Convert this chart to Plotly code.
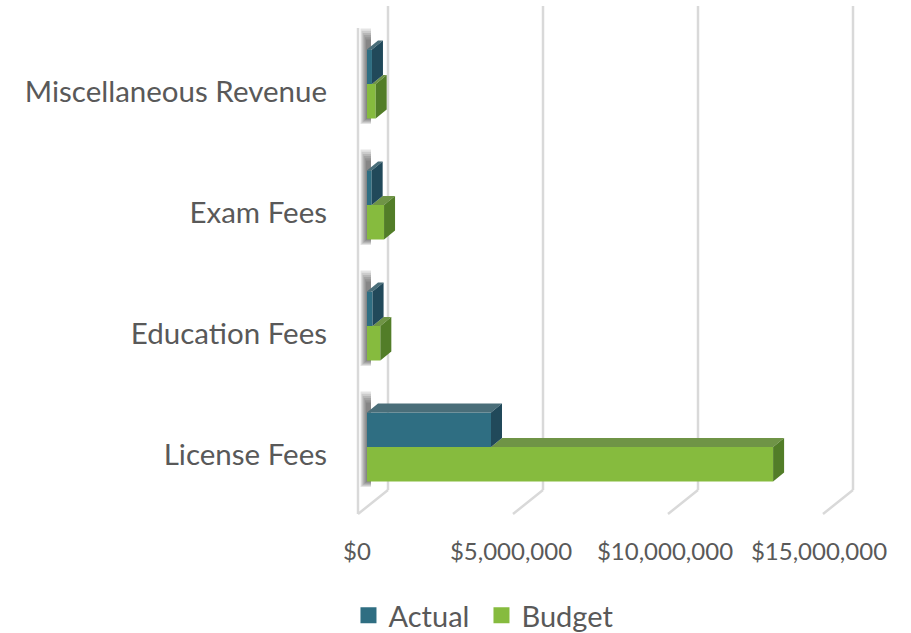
import plotly.graph_objects as go

# ---------------- data ----------------
categories = ["License Fees", "Education Fees", "Exam Fees", "Miscellaneous Revenue"]
actual = [4_000_000, 180_000, 150_000, 160_000]
budget = [13_100_000, 430_000, 550_000, 280_000]
tick_values = [0, 5_000_000, 10_000_000, 15_000_000]
series_names = ["Actual", "Budget"]

# ---------------- geometry (pixels -> data units) ----------------
W, H = 911, 633
L, R, T, B = 340, 880, 2, 525          # plot area in page pixels
PX_PER_USD = 31 / 1e6                   # horizontal scale
PX_PER_CAT = 121                        # category spacing
ZERO_PX = 367                           # bar base pixel
LABEL0_PX = 455                         # first category pixel

x_range = [(L - ZERO_PX) / PX_PER_USD, (R - ZERO_PX) / PX_PER_USD]
y_range = [(LABEL0_PX - B) / PX_PER_CAT, (LABEL0_PX - T) / PX_PER_CAT]


def dx(px):
    return px / PX_PER_USD


def dy(px):
    return px / PX_PER_CAT


pos = list(range(len(categories)))
BAR_H = dy(34.5)
BAR_SHIFT = dy(8)
DEPTH_X, DEPTH_Y = dx(11), dy(9)

FONT = "Lato, Carlito, Calibri, sans-serif"
TXT = "#595959"
GRID = "#d9d9d9"

COL = {
    "Actual": dict(front="#2f6e82", top="#4a6e79", side="#21495a"),
    "Budget": dict(front="#86bb3e", top="#6f9446", side="#527d28"),
}

fig = go.Figure()

# ---------------- walls / gridlines (oblique projection) on base subplot ----------------
gx, gy = [], []
back_dx, front_dx = dx(21), dx(-9)
floor_back, floor_front = dy(455 - 490), dy(455 - 514)
wall_top = dy(455 - 6)
for v in tick_values:
    gx += [v + back_dx, v + back_dx, None]
    gy += [floor_back, wall_top, None]
    gx += [v + front_dx, v + back_dx, None]
    gy += [floor_front, floor_back, None]
gx += [front_dx, front_dx, None]
gy += [floor_front, dy(455 - 28), None]
fig.add_trace(go.Scatter(x=gx, y=gy, mode="lines", line=dict(color=GRID, width=2.5),
                         hoverinfo="skip", showlegend=False))

# ---------------- soft shadows cast on the side wall ----------------
for k in range(6):
    sx, sy = [], []
    for p in pos:
        top = p + BAR_SHIFT + BAR_H + DEPTH_Y + dy(1 + 2.2 * k)
        bot = p + BAR_SHIFT - BAR_H - dy(0.5 + 1.0 * k)
        x0 = dx(-1 - 1.1 * k)
        x1 = dx(4)
        sx += [x0, x1, x1, x0, x0, None]
        sy += [bot, bot, top, top, bot, None]
    fig.add_trace(go.Scatter(x=sx, y=sy, mode="lines", fill="toself", line=dict(width=0),
                             fillcolor="rgba(30,30,30,0.12)", hoverinfo="skip",
                             showlegend=False))


def poly_trace(xs, ys, color):
    return go.Scatter(x=xs, y=ys, mode="lines", fill="toself", line=dict(width=0, color=color),
                      fillcolor=color, hoverinfo="skip", showlegend=False,
                      xaxis="x3", yaxis="y3")


# ---------------- bars (overlay subplot, drawn above walls) ----------------
fig.add_trace(go.Bar(y=pos, x=actual, orientation="h", width=BAR_H, offset=BAR_SHIFT,
                     marker=dict(color=COL["Actual"]["front"], line=dict(width=0)),
                     name="Actual", showlegend=False, xaxis="x3", yaxis="y3"))
fig.add_trace(go.Bar(y=pos, x=budget, orientation="h", width=BAR_H, offset=BAR_SHIFT - BAR_H,
                     marker=dict(color=COL["Budget"]["front"], line=dict(width=0)),
                     name="Budget", showlegend=False, xaxis="x3", yaxis="y3"))

# budget faces (visible part of top, side)
tx, ty, sx, sy = [], [], [], []
for p, va, vb in zip(pos, actual, budget):
    b = p + BAR_SHIFT
    y0 = b - BAR_H
    if vb > va:
        tx += [va, vb, vb + DEPTH_X, va + DEPTH_X, va, None]
        ty += [b, b, b + DEPTH_Y, b + DEPTH_Y, b, None]
    sx += [vb, vb, vb + DEPTH_X, vb + DEPTH_X, vb, None]
    sy += [y0, b, b + DEPTH_Y, y0 + DEPTH_Y, y0, None]
fig.add_trace(poly_trace(tx, ty, COL["Budget"]["top"]))
fig.add_trace(poly_trace(sx, sy, COL["Budget"]["side"]))

# actual faces (top, side)
tx, ty, sx, sy = [], [], [], []
for p, va in zip(pos, actual):
    y0 = p + BAR_SHIFT
    y1 = y0 + BAR_H
    tx += [0, va, va + DEPTH_X, DEPTH_X, 0, None]
    ty += [y1, y1, y1 + DEPTH_Y, y1 + DEPTH_Y, y1, None]
    sx += [va, va, va + DEPTH_X, va + DEPTH_X, va, None]
    sy += [y0, y1, y1 + DEPTH_Y, y0 + DEPTH_Y, y0, None]
fig.add_trace(poly_trace(tx, ty, COL["Actual"]["top"]))
fig.add_trace(poly_trace(sx, sy, COL["Actual"]["side"]))

# ---------------- legend entries ----------------
for name in series_names:
    fig.add_trace(go.Scatter(x=[None], y=[None], mode="markers", name=name,
                             marker=dict(symbol="square", size=16, color=COL[name]["front"])))

# ---------------- tick label axis (front floor edge) ----------------
fig.add_trace(go.Scatter(x=[None], y=[None], xaxis="x2", showlegend=False, hoverinfo="skip"))

LBL0_PX, LBL_SCALE = 357, 30.8 / 1e6
hidden = dict(showgrid=False, zeroline=False, showticklabels=False, showline=False,
              ticks="", fixedrange=True)
fig.update_layout(
    width=W, height=H,
    margin=dict(l=L, r=W - R, t=T, b=H - B, autoexpand=False),
    paper_bgcolor="white", plot_bgcolor="rgba(0,0,0,0)",
    barmode="overlay",
    font=dict(family=FONT, color=TXT),
    xaxis=dict(range=x_range, **hidden),
    xaxis3=dict(range=x_range, overlaying="x", anchor="y3", **hidden),
    yaxis3=dict(range=y_range, overlaying="y", anchor="x3", **hidden),
    xaxis2=dict(overlaying="x", side="bottom", anchor="y",
                range=[(L - LBL0_PX) / LBL_SCALE, (R - LBL0_PX) / LBL_SCALE],
                tickvals=tick_values, tickformat="$,.0f", showgrid=False, zeroline=False,
                showline=False, ticks="", tickfont=dict(size=24, color=TXT, family=FONT),
                ticklabelstandoff=10, automargin=False),
    yaxis=dict(range=y_range, tickvals=pos, ticktext=categories, showgrid=False,
               zeroline=False, showline=False, ticks="", automargin=False,
               tickfont=dict(size=29.5, color=TXT, family=FONT), ticklabelstandoff=12),
    legend=dict(orientation="h", x=0.262, xanchor="center", y=-0.173, yanchor="middle",
                font=dict(size=29, color=TXT, family=FONT), itemwidth=30,
                entrywidth=88, entrywidthmode="pixels",
                bgcolor="rgba(0,0,0,0)"),
)

fig.write_html("out.html", config={"displayModeBar": False},
               post_script="document.body.style.margin='0px';document.body.style.overflow='hidden';")
